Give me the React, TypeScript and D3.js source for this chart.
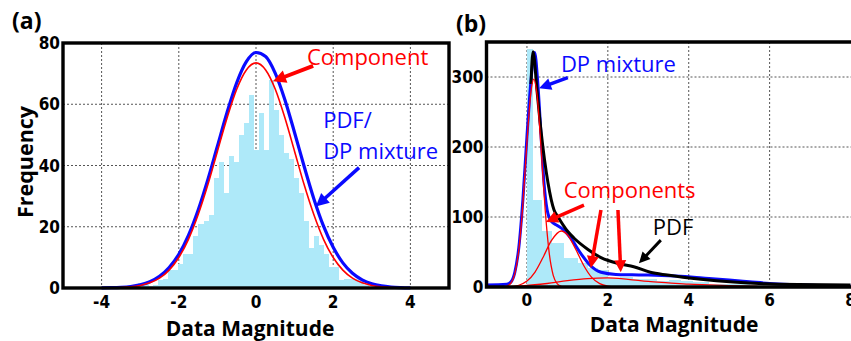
import React from 'react';
import * as d3 from 'd3';

// ---- panel (a) data ----
const histAStart = -3.05;
const histABin = 0.13;
const histACounts = [1.5, 1.5, 0.5, 1, 2.5, 3, 6, 6, 8, 11, 11, 17, 21, 22, 24, 36, 41, 31, 43, 41, 50, 54, 63, 45, 57, 45, 68, 58, 50, 44, 42, 36, 31, 22, 13, 17, 14, 11, 7, 7, 2.6, 3, 3, 3, 2.5, 1];

const pdfAX = [-4, -3.75, -3.5, -3.25, -3, -2.75, -2.5, -2.25, -2, -1.75, -1.5, -1.25, -1, -0.75, -0.5, -0.25, 0, 0.25, 0.5, 0.75, 1, 1.25, 1.5, 1.75, 2, 2.25, 2.5, 2.75, 3, 3.25, 3.5, 3.75, 4];
const pdfAY = [0.04, 0.1, 0.23, 0.5, 1.04, 2.05, 3.81, 6.68, 11.0, 17.2, 25.4, 35.3, 46.3, 57.3, 67.0, 73.9, 76.9, 75.6, 70.1, 61.4, 50.7, 39.6, 29.1, 20.2, 13.3, 8.2, 4.8, 2.65, 1.38, 0.68, 0.31, 0.14, 0.06];

const compAX = [-4.5, -4.25, -4, -3.75, -3.5, -3.25, -3, -2.75, -2.5, -2.25, -2, -1.75, -1.5, -1.25, -1, -0.75, -0.5, -0.25, 0, 0.25, 0.5, 0.75, 1, 1.25, 1.5, 1.75, 2, 2.25, 2.5, 2.75, 3, 3.25, 3.5, 3.75, 4, 4.25, 4.5];
const compAY = [0, 0.01, 0.02, 0.06, 0.16, 0.37, 0.82, 1.68, 3.23, 5.85, 9.95, 15.9, 23.9, 33.6, 44.6, 55.5, 64.9, 71.2, 73.5, 71.2, 64.9, 55.5, 44.6, 33.6, 23.9, 15.9, 9.95, 5.85, 3.23, 1.68, 0.82, 0.37, 0.16, 0.06, 0.02, 0.01, 0];

const ticksAX = [-4, -2, 0, 2, 4];
const ticksAY = [0, 20, 40, 60, 80];

// ---- panel (b) data ----
const histBEdges = [0, 0.15, 0.35, 0.6, 0.9, 1.25, 1.5, 1.75, 2.0, 2.3, 2.6, 2.9, 3.2, 3.5, 3.8, 4.1, 4.5, 5.0, 5.5, 6.0];
const histBCounts = [340, 124, 80, 63, 41, 34, 27, 24, 13, 14, 11, 12, 9, 10, 8, 7, 5, 4, 2];

const mixBX = [-1, -0.5, -0.4, -0.3, -0.2, -0.1, 0, 0.1, 0.19, 0.27, 0.35, 0.42, 0.5, 0.6, 0.75, 0.9, 1.08, 1.33, 1.58, 1.83, 2.2, 2.6, 3.0, 3.5, 4.0, 4.5, 5.0, 5.5, 6.0, 6.5, 7.0, 8.0];
const mixBY = [3, 4, 7, 21, 57, 125, 215, 295, 335, 290, 215, 150, 110, 94, 88, 82, 70, 48, 30, 21, 18, 17.5, 17, 16, 14.5, 12, 10, 7.5, 5, 3.5, 2.5, 1.5];

const pdfBX = [0.1, 0.15, 0.25, 0.35, 0.52, 0.67, 0.77, 1.0, 1.16, 1.5, 1.83, 2.3, 2.64, 3.05, 3.47, 4.3, 5.1, 5.9, 6.7, 8.0];
const pdfBY = [290, 336, 280, 222, 149, 110, 100, 80, 70, 54, 42, 33, 29, 21, 17, 11, 7, 4.5, 3.5, 3];

const comp1BX = [-0.5, -0.4, -0.3, -0.2, -0.1, 0, 0.1, 0.17, 0.25, 0.35, 0.45, 0.55, 0.65, 0.75, 0.85];
const comp1BY = [1.1, 5.1, 18.8, 53.6, 119, 207, 279, 297, 274, 198, 111, 48.8, 16.7, 4.5, 0.9];

const comp2BX = [-0.4, -0.2, 0, 0.2, 0.4, 0.6, 0.85, 1.0, 1.2, 1.4, 1.6, 1.8, 2.0, 2.2];
const comp2BY = [0.6, 2.5, 8.4, 21.4, 42.5, 65.8, 80, 74.6, 54.6, 31.1, 13.8, 4.8, 1.3, 0.3];

const comp3BX = [-0.4, 0.5, 1.0, 1.5, 2.0, 2.5, 3.0, 3.5, 4.0, 4.5, 5.0, 5.7];
const comp3BY = [0, 5, 9, 12, 13, 11, 8, 6, 4, 3, 2, 1];

const ticksBX = [0, 2, 4, 6, 8];
const ticksBY = [0, 100, 200, 300];

// colours
const HIST = '#aee9f9';
const BLUE = '#0a0aff';
const RED = '#ff0000';

const tickFont = "'Liberation Sans Narrow', 'DejaVu Sans Condensed', sans-serif";
const textFont = "'Open Sans', 'Noto Sans', sans-serif";

const xA = d3.scaleLinear().domain([-5, 5]).range([63, 449]);
const yA = d3.scaleLinear().domain([0, 80]).range([288, 43]);
const xB = d3.scaleLinear().domain([-1, 8]).range([486.5, 850.5]);
const yB = d3.scaleLinear().domain([0, 350]).range([287, 42]);

const zip = (xs: number[], ys: number[]) => xs.map((x, i) => [x, ys[i]] as [number, number]);

const Arrow = ({ x1, y1, x2, y2, color, width, head }: any) => {
  const dx = x2 - x1, dy = y2 - y1;
  const len = Math.hypot(dx, dy);
  const ux = dx / len, uy = dy / len;
  const bx = x2 - ux * head, by = y2 - uy * head;
  const hw = head * 0.5;
  const pts = [[x2, y2], [bx - uy * hw, by + ux * hw], [bx + uy * hw, by - ux * hw]];
  return (
    <g>
      <line x1={x1} y1={y1} x2={bx + ux * 1} y2={by + uy * 1} stroke={color} strokeWidth={width} />
      <polygon points={pts.map(p => p.join(',')).join(' ')} fill={color} />
    </g>
  );
};

const App = () => {
  const lineA = d3.line<[number, number]>().x(d => xA(d[0])).y(d => yA(d[1])).curve(d3.curveMonotoneX);
  const lineB = d3.line<[number, number]>().x(d => xB(d[0])).y(d => yB(d[1])).curve(d3.curveMonotoneX);

  const gridStyle = { stroke: '#555', strokeWidth: 1, strokeDasharray: '2,2' };

  return (
    <svg width={851} height={341} style={{ position: 'absolute', left: 0, top: 0, background: '#fff' }}>
      <rect x={0} y={0} width={851} height={341} fill="#fff" />

      {/* ---------- panel (a) ---------- */}
      <g>
        {ticksAX.map(t => (
          <line key={'gxa' + t} x1={xA(t)} x2={xA(t)} y1={yA(80)} y2={yA(0)} style={gridStyle} />
        ))}
        {ticksAY.filter(t => t > 0 && t < 80).map(t => (
          <line key={'gya' + t} x1={xA(-5)} x2={xA(5)} y1={yA(t)} y2={yA(t)} style={gridStyle} />
        ))}
        {histACounts.map((c, i) => {
          const x0 = histAStart + i * histABin;
          return (
            <rect key={'ha' + i} x={xA(x0)} y={yA(c)} width={xA(x0 + histABin) - xA(x0) + 0.4}
              height={yA(0) - yA(c)} fill={HIST} shapeRendering="crispEdges" />
          );
        })}
        <path d={lineA(zip(pdfAX, pdfAY)) || ''} fill="none" stroke={BLUE} strokeWidth={3.2} />
        <path d={lineA(zip(compAX, compAY)) || ''} fill="none" stroke={RED} strokeWidth={1.6} />

        <rect x={xA(-5)} y={yA(80)} width={xA(5) - xA(-5)} height={yA(0) - yA(80)} fill="none" stroke="#000" strokeWidth={3.4} />

        {ticksAY.map(t => (
          <text key={'tya' + t} x={xA(-5) - 3} y={yA(t)} dy="0.36em" textAnchor="end"
            fontFamily={tickFont} fontWeight="bold" fontSize={17}>{String(t)}</text>
        ))}
        {ticksAX.map(t => (
          <text key={'txa' + t} x={xA(t)} y={yA(0) + 20} textAnchor="middle"
            fontFamily={tickFont} fontWeight="bold" fontSize={17}>{String(t)}</text>
        ))}

        <text x={250} y={336} textAnchor="middle" fontFamily={textFont} fontWeight="bold" fontSize={21}>Data Magnitude</text>
        <text transform="translate(33,162) rotate(-90)" textAnchor="middle" fontFamily={textFont} fontWeight="bold" fontSize={21.5}>Frequency</text>
        <text x={12} y={29} fontFamily={textFont} fontWeight="bold" fontSize={23}>(a)</text>

        <text x={xA(1.32)} y={yA(72.8)} fill={RED} fontFamily={textFont} fontSize={22}>Component</text>
        <Arrow x1={xA(1.48)} y1={yA(72.5)} x2={xA(0.44)} y2={yA(67.5)} color={RED} width={4} head={13} />
        <text x={xA(1.74)} y={yA(52.1)} fill={BLUE} fontFamily={textFont} fontSize={22}>PDF/</text>
        <text x={xA(1.74)} y={yA(42)} fill={BLUE} fontFamily={textFont} fontSize={22}>DP mixture</text>
        <Arrow x1={xA(2.67)} y1={yA(39.3)} x2={xA(1.55)} y2={yA(26.6)} color={BLUE} width={3.5} head={13} />
      </g>

      {/* ---------- panel (b) ---------- */}
      <g>
        {ticksBX.filter(t => t < 8).map(t => (
          <line key={'gxb' + t} x1={xB(t)} x2={xB(t)} y1={yB(350)} y2={yB(0)} style={gridStyle} />
        ))}
        {ticksBY.filter(t => t > 0).map(t => (
          <line key={'gyb' + t} x1={xB(-1)} x2={851} y1={yB(t)} y2={yB(t)} style={gridStyle} />
        ))}
        {histBCounts.map((c, i) => (
          <rect key={'hb' + i} x={xB(histBEdges[i])} y={yB(c)} width={xB(histBEdges[i + 1]) - xB(histBEdges[i]) + 0.4}
            height={yB(0) - yB(c)} fill={HIST} shapeRendering="crispEdges" />
        ))}
        <path d={lineB(zip(mixBX, mixBY)) || ''} fill="none" stroke={BLUE} strokeWidth={3} />
        <path d={lineB(zip(pdfBX, pdfBY)) || ''} fill="none" stroke="#000" strokeWidth={3} />
        <path d={lineB(zip(comp1BX, comp1BY)) || ''} fill="none" stroke={RED} strokeWidth={1.3} />
        <path d={lineB(zip(comp2BX, comp2BY)) || ''} fill="none" stroke={RED} strokeWidth={1.3} />
        <path d={lineB(zip(comp3BX, comp3BY)) || ''} fill="none" stroke={RED} strokeWidth={1.3} />

        <path d={`M${860},${yB(350)} H${xB(-1)} V${yB(0)} H${860}`} fill="none" stroke="#000" strokeWidth={3.4} />

        {ticksBY.map(t => (
          <text key={'tyb' + t} x={xB(-1) - 3} y={yB(t)} dy="0.36em" textAnchor="end"
            fontFamily={tickFont} fontWeight="bold" fontSize={17}>{String(t)}</text>
        ))}
        {ticksBX.map(t => (
          <text key={'txb' + t} x={xB(t)} y={yB(0) + 19} textAnchor="middle"
            fontFamily={tickFont} fontWeight="bold" fontSize={17}>{String(t)}</text>
        ))}

        <text x={674} y={332} textAnchor="middle" fontFamily={textFont} fontWeight="bold" fontSize={21}>Data Magnitude</text>
        <text x={456} y={32} fontFamily={textFont} fontWeight="bold" fontSize={23}>(b)</text>

        <text x={xB(0.84)} y={yB(307)} fill={BLUE} fontFamily={textFont} fontSize={22}>DP mixture</text>
        <Arrow x1={xB(1.01)} y1={yB(299)} x2={xB(0.3)} y2={yB(284)} color={BLUE} width={3.5} head={12} />

        <text x={xB(0.91)} y={yB(127)} fill={RED} fontFamily={textFont} fontSize={22}>Components</text>
        <Arrow x1={xB(1.41)} y1={yB(117)} x2={xB(0.47)} y2={yB(93)} color={RED} width={3.5} head={12} />
        <Arrow x1={xB(1.83)} y1={yB(110)} x2={xB(1.58)} y2={yB(27)} color={RED} width={3.5} head={12} />
        <Arrow x1={xB(2.25)} y1={yB(110)} x2={xB(2.32)} y2={yB(21)} color={RED} width={3.5} head={12} />

        <text x={xB(3.11)} y={yB(74)} fill="#000" fontFamily={textFont} fontSize={22}>PDF</text>
        <Arrow x1={xB(3.31)} y1={yB(67)} x2={xB(2.77)} y2={yB(34)} color="#000" width={3} head={11} />
      </g>
    </svg>
  );
};

export default App;
